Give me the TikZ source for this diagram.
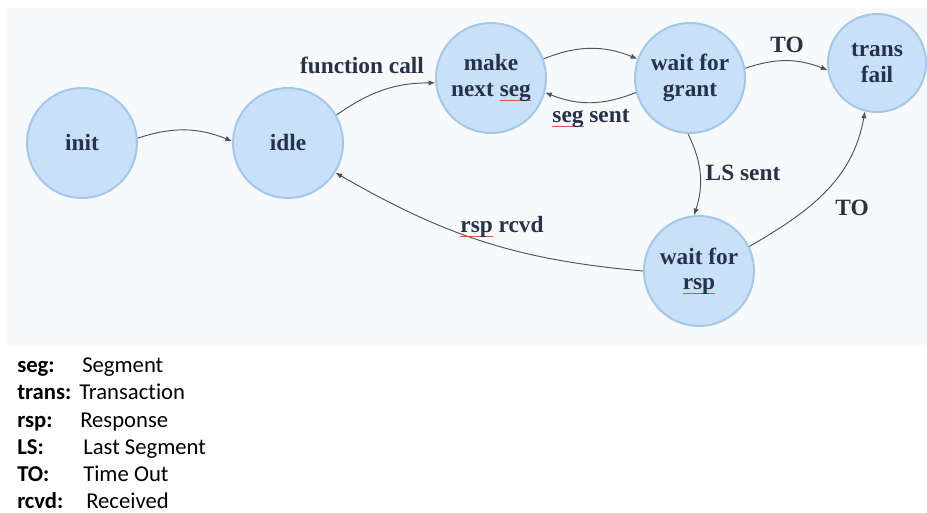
\documentclass[tikz,border=0pt]{standalone}
\usepackage{fontspec}
\setmainfont{Liberation Serif}
\newfontfamily\legendfont[Ligatures=NoCommon]{Carlito}
\usetikzlibrary{arrows.meta}
\definecolor{panelbg}{HTML}{F7F9FB}
\definecolor{statefill}{HTML}{C8E1F8}
\definecolor{stateline}{HTML}{A3C8EA}
\definecolor{statetext}{HTML}{26324A}
\definecolor{edgecol}{HTML}{4A5366}
\definecolor{spellred}{HTML}{D9534F}
% red spell-check underline under a word
\newcommand\spellmark[1]{\setbox0=\hbox{#1}\rlap{\textcolor{spellred}{\rule[-3.5pt]{\wd0}{0.8pt}}}\box0\relax}
\begin{document}
\begin{tikzpicture}[x=0.75pt,y=0.75pt,
  state/.style={circle,draw=stateline,fill=statefill,line width=1.5pt,
    minimum size=82.5pt,inner sep=0pt,align=center,
    font=\bfseries\fontsize{17.5}{19}\selectfont,text=statetext},
  edge/.style={draw=edgecol,line width=0.7pt,-{Latex[length=5pt,width=4pt]}},
  elabel/.style={inner sep=0pt,font=\bfseries\fontsize{17.5}{19}\selectfont,text=statetext},
  legkey/.style={anchor=base west,inner sep=0pt,font=\legendfont\bfseries\fontsize{17}{20}\selectfont},
  legval/.style={anchor=base west,inner sep=0pt,font=\legendfont\fontsize{17}{20}\selectfont}]
\useasboundingbox (0,0) rectangle (927,-512);
\fill[panelbg] (7,-8) rectangle (927,-345);

% states
\node[state] (init)  at (82,-143)  {init};
\node[state] (idle)  at (288,-143) {idle};
\node[state] (make)  at (491,-78)  {make\\next \spellmark{seg}};
\node[state] (grant) at (690,-78)  {wait for\\grant};
\node[state,minimum size=73.5pt] (fail) at (877,-63) {trans\\fail};
\node[state] (rsp)   at (699,-271) {wait for\\\spellmark{rsp}};

% transitions
\draw[edge] (init.5) to[bend left=20] (idle.178);
\draw[edge] (idle.30) to[out=35,in=180] (make.185);
\draw[edge] (make.20) to[bend left=22] (grant.160);
\draw[edge] (grant.195) to[bend left=22] (make.345);
\draw[edge] (grant.10) to[bend left=20] (fail.188);
\draw[edge] (grant.268) to[bend left=22] (rsp.95);
\draw[edge] (rsp.26) to[out=30,in=260] (fail.256);
\draw[edge] (rsp.180) to[out=175,in=-30] (idle.328);

% transition labels
\node[elabel] (lcall) at (362,-65)  {function call};
\node[elabel] (lseg)  at (591,-118) {\spellmark{seg} sent};
\node[elabel] (lto1)  at (787,-45)  {TO};
\node[elabel] (lls)   at (743,-173) {LS sent};
\node[elabel] (lto2)  at (852,-208) {TO};
\node[elabel] (lrsp)  at (502,-227) {\spellmark{rsp} rcvd};

% legend
\node[legkey] (k1) at (17,-372) {seg:};    \node[legval] (v1) at (82,-372) {Segment};
\node[legkey] (k2) at (17,-399) {trans:};  \node[legval] (v2) at (79,-399) {Transaction};
\node[legkey] (k3) at (17,-427) {rsp:};    \node[legval] (v3) at (80,-427) {Response};
\node[legkey] (k4) at (17,-454) {LS:};     \node[legval] (v4) at (83,-454) {Last Segment};
\node[legkey] (k5) at (17,-481) {TO:};     \node[legval] (v5) at (83,-481) {Time Out};
\node[legkey] (k6) at (17,-508) {rcvd:};   \node[legval] (v6) at (86,-508) {Received};
\end{tikzpicture}
\end{document}
